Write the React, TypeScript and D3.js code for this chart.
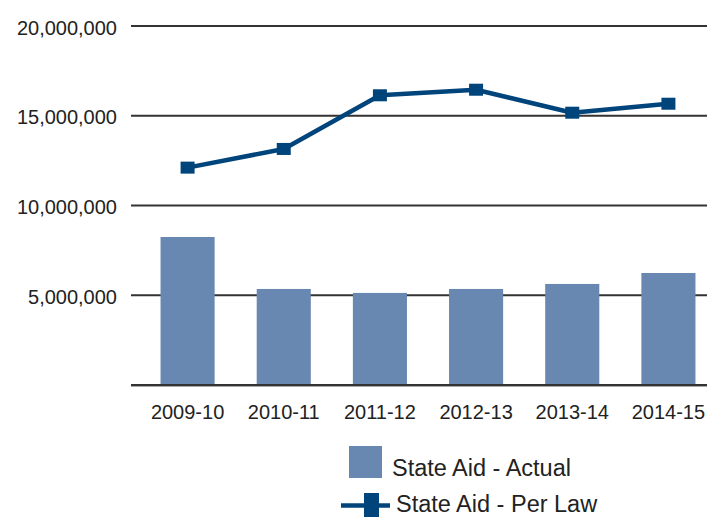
import React from "react";
import * as d3 from "d3";

const categories = ["2009-10", "2010-11", "2011-12", "2012-13", "2013-14", "2014-15"];
const actualValues = [8245000, 5350000, 5130000, 5350000, 5630000, 6240000];
const perLawValues = [12110000, 13150000, 16140000, 16450000, 15170000, 15670000];
const yTicks = [5000000, 10000000, 15000000, 20000000];
const seriesNames = ["State Aid - Actual", "State Aid - Per Law"];

const BAR_COLOR = "#6888B2";
const LINE_COLOR = "#00447C";
const TEXT_COLOR = "#222222";
const FONT = "'Liberation Sans', Arial, Helvetica, sans-serif";

export default function App() {
  const W = 707;
  const H = 519;
  const gridLeft = 131;
  const gridRight = 707;

  const x = d3.scaleBand<string>().domain(categories).range([139.5, 716.5]).paddingInner(0.4375).paddingOuter(0.21875);
  const y = d3.scaleLinear().domain([0, 20000000]).range([385, 26]);
  const fmt = d3.format(",");

  const line = d3
    .line<number>()
    .x((_, i) => (x(categories[i]) as number) + x.bandwidth() / 2)
    .y((d) => y(d));

  return (
    <svg
      width={W}
      height={H}
      style={{ position: "absolute", left: 0, top: 0, background: "#fff" }}
      fontFamily={FONT}
    >
      {yTicks.map((t) => (
        <g key={t}>
          <line x1={gridLeft} x2={gridRight} y1={y(t)} y2={y(t)} stroke="#333" strokeWidth={2} />
          <text x={117} y={y(t) + 8.5} textAnchor="end" fontSize={20} fill={TEXT_COLOR}>
            {fmt(t)}
          </text>
        </g>
      ))}
      {categories.map((c, i) => (
        <rect
          key={c}
          x={x(c) as number}
          y={y(actualValues[i])}
          width={x.bandwidth()}
          height={y(0) - y(actualValues[i])}
          fill={BAR_COLOR}
        />
      ))}
      <line x1={gridLeft} x2={gridRight} y1={y(0)} y2={y(0)} stroke="#333" strokeWidth={2} />
      <line x1={gridLeft} x2={gridRight} y1={y(0) + 1.5} y2={y(0) + 1.5} stroke="#aaa" strokeWidth={1} />
      {categories.map((c) => (
        <text
          key={c}
          x={(x(c) as number) + x.bandwidth() / 2}
          y={419}
          textAnchor="middle"
          fontSize={20}
          fill={TEXT_COLOR}
        >
          {c}
        </text>
      ))}
      <path d={line(perLawValues) || ""} fill="none" stroke={LINE_COLOR} strokeWidth={4.5} strokeLinejoin="round" />
      {perLawValues.map((v, i) => (
        <rect
          key={i}
          x={(x(categories[i]) as number) + x.bandwidth() / 2 - 7}
          y={y(v) - 6}
          width={14}
          height={12}
          fill={LINE_COLOR}
        />
      ))}
      {/* Legend */}
      <rect x={349} y={446} width={33} height={32} fill={BAR_COLOR} />
      <text x={392} y={476} fontSize={23.5} fill={TEXT_COLOR}>
        {seriesNames[0]}
      </text>
      <line x1={341} x2={390} y1={505.5} y2={505.5} stroke={LINE_COLOR} strokeWidth={4.5} />
      <rect x={364} y={493} width={15} height={24} fill={LINE_COLOR} />
      <text x={396} y={512} fontSize={23.5} fill={TEXT_COLOR}>
        {seriesNames[1]}
      </text>
    </svg>
  );
}
